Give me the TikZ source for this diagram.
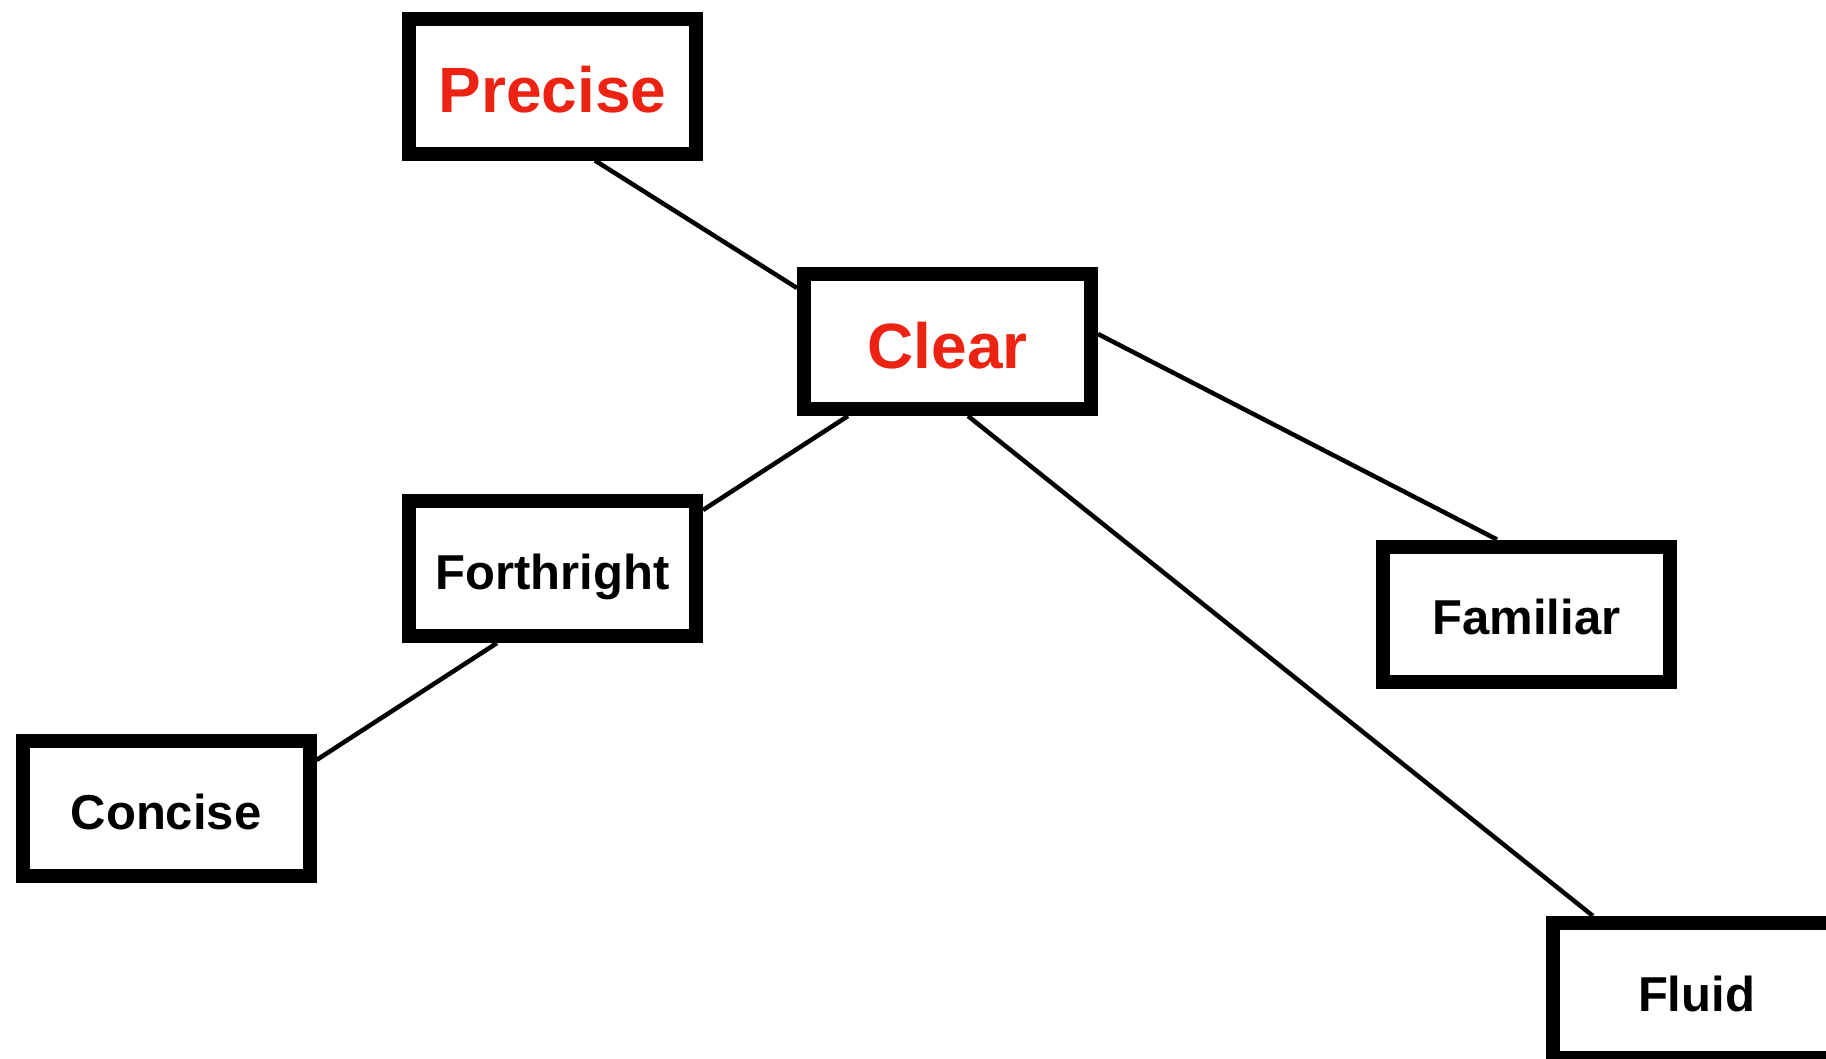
\documentclass[tikz,border=0pt]{standalone}
\usepackage{fontspec}
\setmainfont{Liberation Sans}
\usetikzlibrary{calc,backgrounds}
\definecolor{keyred}{RGB}{236,34,18}
\begin{document}
\begin{tikzpicture}[x=1pt,y=-1pt,
  wordbox/.style={draw=black, fill=white, line width=14pt,
    minimum width=287pt, minimum height=135pt, inner sep=0pt,
    text depth=0pt},
  keyword/.style={wordbox, text=keyred, text height=53pt,
    font=\fontsize{64}{77}\selectfont\bfseries},
  plainword/.style={wordbox, text=black, text height=41pt,
    font=\fontsize{49}{59}\selectfont\bfseries},
  link/.style={draw=black, line width=4.5pt}]
  \useasboundingbox (0,0) rectangle (1826,1058);
  \clip (0,0) rectangle (1826,1058);

  \node[keyword]   (precise)    at (552.5,86)    {Precise};
  \node[keyword]   (clear)      at (947.5,341.5) {Clear};
  \node[plainword] (forthright) at (552.5,568.5) {Forthright};
  \node[plainword] (concise)    at (166,808.5)   {Concise};
  \node[plainword] (familiar)   at (1526.5,614)  {Familiar};
  \node[plainword] (fluid)      at (1696.5,990.5){Fluid};

  \begin{scope}[on background layer]
    \draw[link] ($(precise.south)+(42.5,0)$) -- ($(clear.west)+(0,-53.5)$);
    \draw[link] ($(clear.east)+(0,-7.5)$) -- ($(familiar.north)+(-29.5,0)$);
    \draw[link] ($(clear.south)+(-99.5,0)$) -- ($(forthright.east)+(0,-58.5)$);
    \draw[link] ($(clear.south)+(20.5,0)$) -- ($(fluid.north)+(-103.5,0)$);
    \draw[link] ($(forthright.south)+(-55.5,0)$) -- ($(concise.east)+(0,-48.5)$);
  \end{scope}
\end{tikzpicture}
\end{document}
